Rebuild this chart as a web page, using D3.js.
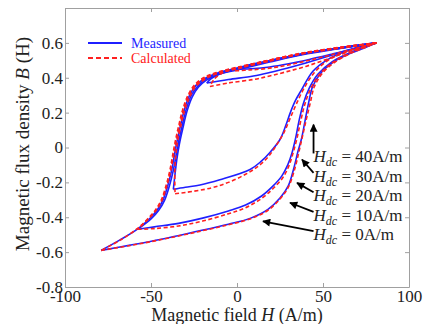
<!DOCTYPE html>
<html>
<head>
<meta charset="utf-8">
<script src="https://cdn.jsdelivr.net/npm/d3@7"></script>
<style>
  body { margin: 0; background: #fff; }
  svg { display: block; }
  svg text { font-family: "Liberation Serif", "Times New Roman", "DejaVu Serif", serif; }
</style>
</head>
<body>
<script>
// ---- data read off the picture : [H (A/m), B (T)] ----
// measured loops, descending branch (from upper tip) and ascending branch
var measuredDown0 = [[81,0.60],[60,0.572],[38,0.538],[19,0.498],[0,0.455],[-12,0.425],[-19,0.395],[-24,0.355],[-27.5,0.30],[-30.5,0.22],[-33,0.12],[-35,0.03],[-36.5,-0.05],[-38,-0.13],[-40,-0.21],[-43,-0.30],[-46.5,-0.36],[-51,-0.41],[-57.5,-0.465],[-68,-0.53],[-79,-0.59]];
var measuredUp0 = [[-79,-0.59],[-62,-0.56],[-44,-0.526],[-25,-0.485],[-5,-0.44],[8,-0.405],[18,-0.355],[25,-0.29],[29.8,-0.22],[33,-0.12],[35.5,-0.02],[37.5,0.05],[39.5,0.15],[41.5,0.25],[44,0.35],[49,0.43],[56,0.49],[66,0.54],[75,0.575],[81,0.6]];
var measuredDown10 = [[81,0.60],[60,0.57],[38,0.535],[19,0.495],[0,0.45],[-12,0.42],[-18.5,0.39],[-23,0.35],[-26.5,0.30],[-29.5,0.22],[-32,0.12],[-34,0.03],[-35.5,-0.05],[-37,-0.13],[-39,-0.21],[-42,-0.30],[-45.5,-0.36],[-50,-0.41],[-57.7,-0.469]];
var measuredUp10 = [[-57.7,-0.469],[-48,-0.455],[-34,-0.435],[-20,-0.405],[-5,-0.364],[5,-0.33],[14.3,-0.278],[21,-0.22],[26,-0.164],[29.5,-0.10],[32,-0.03],[34,0.05],[36,0.15],[38.5,0.25],[42,0.34],[47,0.42],[55,0.49],[66,0.545],[81,0.6]];
var measuredDown20 = [[81,0.6],[60,0.568],[38,0.532],[19,0.49],[0,0.445],[-12,0.415],[-18,0.385],[-22.5,0.345],[-26,0.29],[-29,0.21],[-31.5,0.11],[-33.5,0.02],[-35,-0.07],[-36,-0.15],[-37,-0.24]];
var measuredUp20 = [[-37,-0.24],[-30,-0.228],[-21.5,-0.215],[-10,-0.185],[7.6,-0.126],[14,-0.08],[19,-0.03],[25,0.046],[28.5,0.13],[31,0.2],[34,0.27],[37.5,0.33],[44,0.436],[52,0.5],[63,0.55],[81,0.6]];
var measuredDown30 = [[81,0.6],[60,0.57],[38,0.535],[19,0.495],[0,0.452],[-10,0.422],[-15,0.395],[-17.6,0.37]];
var measuredUp30 = [[-17.6,0.37],[-5,0.39],[9.5,0.41],[19,0.43],[29,0.455],[40,0.485],[52,0.52],[65,0.56],[81,0.6]];
var measuredDown40 = [[81,0.6],[60,0.572],[38,0.538],[19,0.498],[5,0.468],[-2,0.448]];
var measuredUp40 = [[-2,0.448],[8,0.452],[19,0.462],[30,0.48],[42,0.505],[55,0.535],[68,0.566],[81,0.6]];

// calculated loops
var calculatedDown0 = [[81,0.60],[60,0.575],[38,0.542],[19,0.502],[0,0.46],[-12,0.43],[-19.5,0.40],[-25,0.355],[-28.5,0.30],[-31.5,0.22],[-34,0.12],[-36,0.03],[-37.5,-0.05],[-39,-0.13],[-41,-0.21],[-44,-0.30],[-47.5,-0.36],[-52,-0.41],[-58,-0.465],[-68,-0.532],[-79,-0.59]];
var calculatedUp0 = [[-79,-0.59],[-62,-0.562],[-44,-0.528],[-25,-0.488],[-5,-0.443],[8,-0.408],[18,-0.36],[25,-0.295],[30,-0.225],[33.5,-0.125],[36,-0.025],[38.3,0.075],[40.5,0.17],[42.7,0.26],[45,0.35],[50,0.43],[57,0.49],[66,0.54],[75,0.575],[81,0.6]];
var calculatedDown10 = [[81,0.6],[60,0.573],[38,0.54],[19,0.5],[0,0.457],[-12,0.427],[-19,0.397],[-24.5,0.352],[-28,0.30],[-31,0.22],[-33.5,0.12],[-35.5,0.03],[-37,-0.05],[-38.5,-0.13],[-40.5,-0.21],[-43.5,-0.30],[-47,-0.36],[-51.5,-0.41],[-57.7,-0.469]];
var calculatedUp10 = [[-57.7,-0.469],[-48,-0.465],[-34,-0.45],[-20,-0.422],[-5,-0.38],[5,-0.345],[14.3,-0.292],[21,-0.235],[26.5,-0.175],[30,-0.11],[32.5,-0.035],[34.8,0.05],[37,0.15],[39.5,0.25],[43,0.34],[48,0.42],[56,0.49],[66,0.545],[81,0.6]];
var calculatedDown20 = [[81,0.6],[60,0.57],[38,0.537],[19,0.495],[0,0.452],[-12,0.422],[-18.5,0.392],[-24,0.35],[-27.5,0.29],[-30.5,0.21],[-33,0.11],[-34.8,0.02],[-35.8,-0.07],[-36.2,-0.15],[-36,-0.265]];
var calculatedUp20 = [[-36,-0.265],[-30,-0.258],[-15,-0.232],[-5,-0.2],[4.7,-0.155],[12,-0.11],[18,-0.055],[23,0.015],[27.5,0.09],[31,0.17],[35,0.26],[39,0.34],[45,0.43],[53,0.5],[64,0.55],[81,0.6]];
var calculatedDown30 = [[81,0.6],[60,0.572],[38,0.54],[19,0.5],[0,0.455],[-8,0.43],[-13,0.395],[-15.7,0.35]];
var calculatedUp30 = [[-15.7,0.35],[-5,0.37],[9.5,0.39],[19,0.41],[29,0.435],[40,0.465],[52,0.505],[65,0.55],[81,0.6]];
var calculatedDown40 = [[81,0.6],[60,0.573],[38,0.54],[19,0.5],[5,0.468],[-1,0.44]];
var calculatedUp40 = [[-1,0.44],[8,0.445],[19,0.455],[30,0.474],[42,0.5],[55,0.532],[68,0.565],[81,0.6]];

// axes and annotations
var xTicks = [-100, -50, 0, 50, 100];
var yTicks = [-0.8, -0.6, -0.4, -0.2, 0, 0.2, 0.4, 0.6];
var hdcLabels = ["40A/m", "30A/m", "20A/m", "10A/m", "0A/m"];
var arrowTails = [[44.5,-0.034],[44.5,-0.146],[44.5,-0.257],[44.5,-0.369],[44.5,-0.48]];
var arrowHeads = [[44.5,0.131],[37.8,-0.069],[34.9,-0.203],[30.8,-0.317],[15.1,-0.423]];

// ---- layout ----
var attrs = {
  width: 426,
  height: 324,
  marginLeft: 65,
  marginRight: 17,
  marginTop: 8,
  marginBottom: 37,
  font: "Liberation Serif, Times New Roman, DejaVu Serif, serif",
  blue: "#1f1fff",
  red: "#ff2020",
  axisColor: "#a0a0a0"
};
var calc = {};
calc.chartWidth = attrs.width - attrs.marginLeft - attrs.marginRight;
calc.chartHeight = attrs.height - attrs.marginTop - attrs.marginBottom;

var svg = d3.select("body").append("svg")
  .attr("width", attrs.width)
  .attr("height", attrs.height);

svg.append("defs").append("marker")
  .attr("id", "arrowhead")
  .attr("viewBox", "0 0 10 10")
  .attr("refX", 9).attr("refY", 5)
  .attr("markerWidth", 9).attr("markerHeight", 8)
  .attr("markerUnits", "userSpaceOnUse")
  .attr("orient", "auto")
  .append("path")
  .attr("d", "M0,0 L10,5 L0,10 Z")
  .attr("fill", "#000");

var chart = svg.append("g")
  .attr("transform", "translate(" + attrs.marginLeft + "," + attrs.marginTop + ")");

var x = d3.scaleLinear().domain([-100, 100]).range([0, calc.chartWidth]);
var y = d3.scaleLinear().domain([-0.8, 0.8]).range([calc.chartHeight, 0]);

// box axes with inward ticks
function styleAxis(g) {
  g.attr("font-family", null).attr("font-size", null);
  g.select(".domain").attr("stroke", attrs.axisColor);
  g.selectAll(".tick line").attr("stroke", attrs.axisColor);
  g.selectAll(".tick text").attr("fill", "#222").style("font-size", "17px");
}
chart.append("g")
  .attr("transform", "translate(0," + calc.chartHeight + ")")
  .call(d3.axisBottom(x).tickValues(xTicks).tickFormat(String).tickSizeInner(-4).tickSizeOuter(0).tickPadding(3))
  .call(styleAxis);
chart.append("g")
  .call(d3.axisTop(x).tickValues(xTicks).tickFormat("").tickSizeInner(-4).tickSizeOuter(0))
  .call(styleAxis);
chart.append("g")
  .call(d3.axisLeft(y).tickValues(yTicks).tickFormat(String).tickSizeInner(-4).tickSizeOuter(0).tickPadding(2))
  .call(styleAxis);
chart.append("g")
  .attr("transform", "translate(" + calc.chartWidth + ",0)")
  .call(d3.axisRight(y).tickValues(yTicks).tickFormat("").tickSizeInner(-4).tickSizeOuter(0))
  .call(styleAxis);

// ---- loops ----
var line = d3.line()
  .x(function(d) { return x(d[0]); })
  .y(function(d) { return y(d[1]); })
  .curve(d3.curveCatmullRom.alpha(0.5));

var measured = [measuredDown0, measuredUp0, measuredDown10, measuredUp10, measuredDown20, measuredUp20,
                measuredDown30, measuredUp30, measuredDown40, measuredUp40];
var calculated = [calculatedDown0, calculatedUp0, calculatedDown10, calculatedUp10, calculatedDown20, calculatedUp20,
                  calculatedDown30, calculatedUp30, calculatedDown40, calculatedUp40];

chart.selectAll(".measured").data(measured).enter().append("path")
  .attr("class", "measured")
  .attr("d", line)
  .attr("fill", "none")
  .attr("stroke", attrs.blue)
  .attr("stroke-width", 1.6);

chart.selectAll(".calculated").data(calculated).enter().append("path")
  .attr("class", "calculated")
  .attr("d", line)
  .attr("fill", "none")
  .attr("stroke", attrs.red)
  .attr("stroke-width", 1.6)
  .attr("stroke-dasharray", "4,2.5");

// ---- Hdc annotations ----
chart.selectAll(".hdc-arrow").data(arrowTails).enter().append("line")
  .attr("class", "hdc-arrow")
  .attr("x1", function(d) { return x(d[0]); })
  .attr("y1", function(d) { return y(d[1]); })
  .attr("x2", function(d, i) { return x(arrowHeads[i][0]); })
  .attr("y2", function(d, i) { return y(arrowHeads[i][1]); })
  .attr("stroke", "#000")
  .attr("stroke-width", 1.8)
  .attr("marker-end", "url(#arrowhead)");

var hdcText = chart.selectAll(".hdc-label").data(hdcLabels).enter().append("text")
  .attr("class", "hdc-label")
  .attr("x", function(d, i) { return x(arrowTails[i][0]); })
  .attr("y", function(d, i) { return y(arrowTails[i][1]) + 9; })
  .style("font-size", "17px")
  .attr("fill", "#222");
hdcText.append("tspan").attr("font-style", "italic").text("H");
hdcText.append("tspan").attr("font-style", "italic").style("font-size", "12px").attr("dy", 4).text("dc");
hdcText.append("tspan").attr("dy", -4).text(function(d) { return " = " + d; });

// ---- legend ----
var legend = chart.append("g").attr("transform", "translate(23,35)");
var legendItems = [
  { label: "Measured", color: attrs.blue, dash: null },
  { label: "Calculated", color: attrs.red, dash: "5,3" }
];
var legendItem = legend.selectAll(".legend-item").data(legendItems).enter().append("g")
  .attr("class", "legend-item")
  .attr("transform", function(d, i) { return "translate(0," + i * 15 + ")"; });
legendItem.append("line")
  .attr("x1", 0).attr("x2", 34)
  .attr("stroke", function(d) { return d.color; })
  .attr("stroke-width", 2.2)
  .attr("stroke-dasharray", function(d) { return d.dash; });
legendItem.append("text")
  .attr("x", 43).attr("y", 5)
  .style("font-size", "14px")
  .attr("fill", function(d) { return d.color; })
  .text(function(d) { return d.label; });

// ---- axis titles ----
var xTitle = svg.append("text")
  .attr("x", attrs.marginLeft + calc.chartWidth / 2)
  .attr("y", 321)
  .attr("text-anchor", "middle")
  .style("font-size", "18px")
  .attr("fill", "#222");
xTitle.append("tspan").text("Magnetic field ");
xTitle.append("tspan").attr("font-style", "italic").text("H");
xTitle.append("tspan").text(" (A/m)");

var yTitle = svg.append("text")
  .attr("transform", "translate(29,144) rotate(-90)")
  .attr("text-anchor", "middle")
  .style("font-size", "19px")
  .attr("fill", "#222");
yTitle.append("tspan").text("Magnetic flux density ");
yTitle.append("tspan").attr("font-style", "italic").text("B");
yTitle.append("tspan").text(" (H)");
</script>
</body>
</html>
